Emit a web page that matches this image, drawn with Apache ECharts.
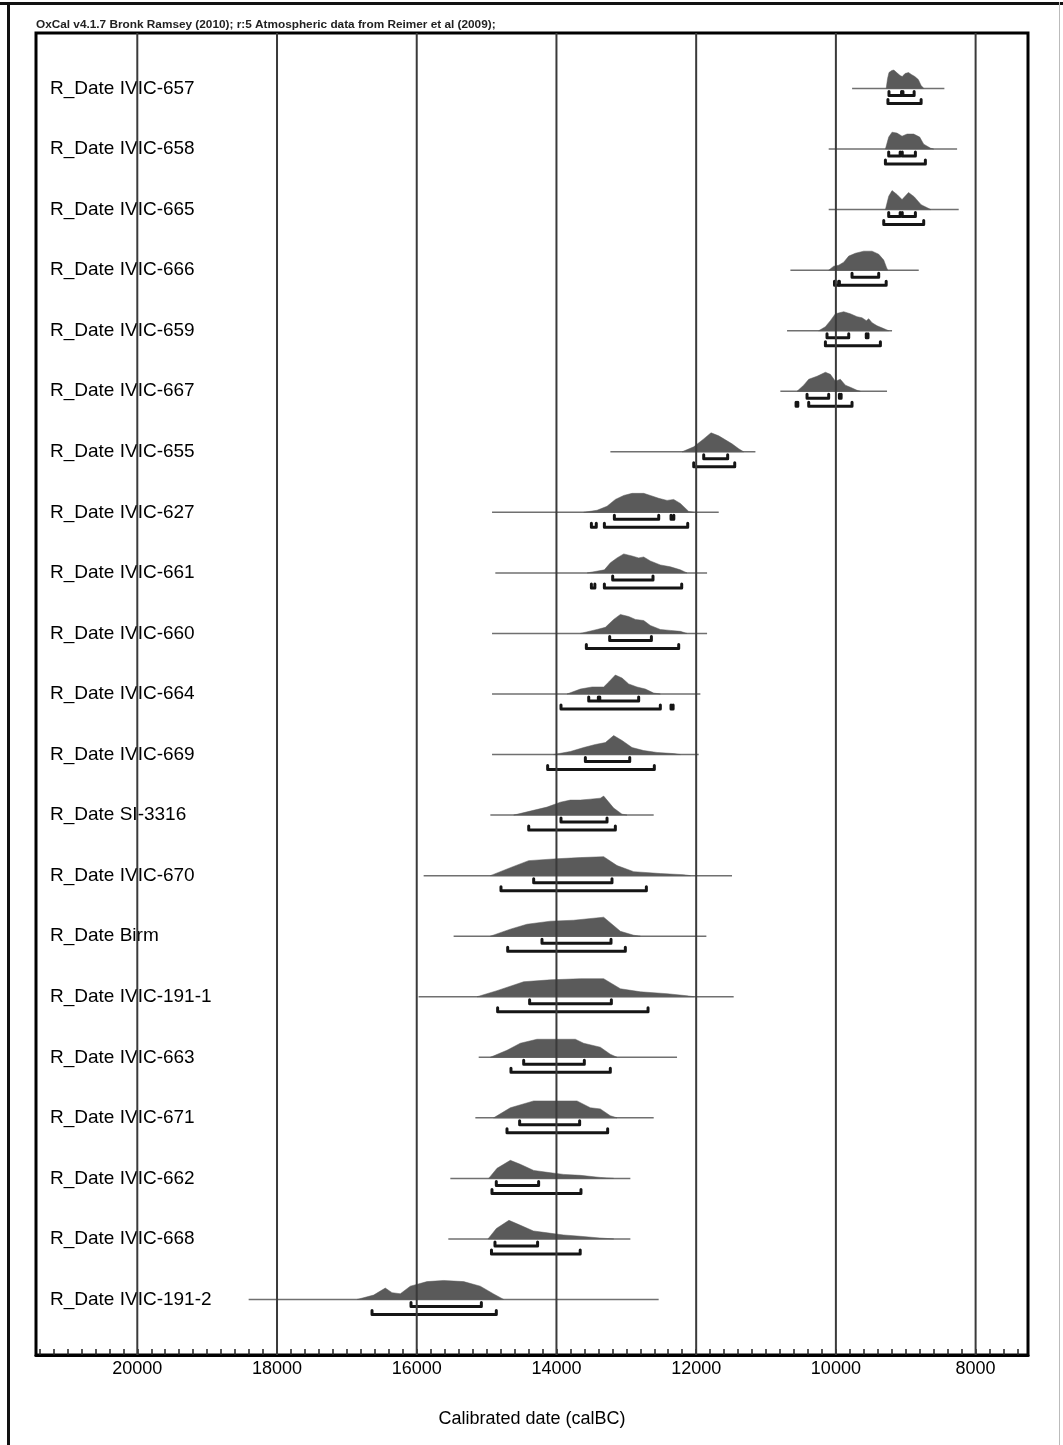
<!DOCTYPE html>
<html><head><meta charset="utf-8">
<script src="https://cdn.jsdelivr.net/npm/echarts@6/dist/echarts.min.js"></script>
<style>html,body{margin:0;padding:0;background:#fff}#c{width:1063px;height:1445px}</style>
</head><body><div id="c"></div><script>
// ---------- DATA ----------
const headerText = 'OxCal v4.1.7 Bronk Ramsey (2010); r:5 Atmospheric data from Reimer et al (2009);';
const axisTitle = 'Calibrated date (calBC)';
const rowNames = ['R_Date IVIC-657','R_Date IVIC-658','R_Date IVIC-665','R_Date IVIC-666','R_Date IVIC-659','R_Date IVIC-667','R_Date IVIC-655','R_Date IVIC-627','R_Date IVIC-661','R_Date IVIC-660','R_Date IVIC-664','R_Date IVIC-669','R_Date SI-3316','R_Date IVIC-670','R_Date Birm','R_Date IVIC-191-1','R_Date IVIC-663','R_Date IVIC-671','R_Date IVIC-662','R_Date IVIC-668','R_Date IVIC-191-2'];
const xTickLabels = [8000,10000,12000,14000,16000,18000,20000];
const gridYears = [8000,10000,12000,14000,16000,18000,20000];

// probability densities [calBC year, relative density 0-100]
const pdf657 = [[9280,0],[9260,53],[9240,84],[9200,95],[9170,97],[9130,84],[9080,68],[9050,63],[9010,79],[8960,84],[8920,74],[8870,63],[8820,47],[8780,16],[8740,0]];
const pdf658 = [[9291,0],[9244,63],[9196,89],[9125,84],[9053,68],[8981,79],[8886,79],[8800,63],[8743,26],[8647,5],[8600,0]];
const pdf665 = [[9291,0],[9244,70],[9196,100],[9125,80],[9053,53],[8960,90],[8880,68],[8780,26],[8640,0]];
const pdf666 = [[10103,0],[10031,21],[9960,26],[9888,42],[9816,74],[9721,89],[9602,100],[9482,100],[9387,84],[9315,53],[9277,16],[9258,0]];
const pdf659 = [[10246,0],[10150,21],[10079,53],[10007,89],[9888,100],[9793,89],[9697,74],[9626,68],[9564,53],[9530,63],[9482,42],[9411,26],[9315,11],[9244,0]];
const pdf667 = [[10556,0],[10461,32],[10389,63],[10270,79],[10150,100],[10079,89],[10007,53],[9936,63],[9864,32],[9793,21],[9697,5],[9650,0]];
const pdf655 = [[12202,0],[12035,26],[11892,68],[11787,100],[11677,84],[11582,63],[11487,42],[11391,16],[11320,0]];
const pdf627 = [[13610,0],[13419,11],[13276,32],[13157,68],[13037,89],[12918,100],[12751,100],[12656,89],[12536,74],[12417,63],[12322,68],[12226,47],[12107,5],[12035,0]];
const pdf661 = [[13560,0],[13314,16],[13228,53],[13133,79],[13037,100],[12918,89],[12823,79],[12751,84],[12656,63],[12513,42],[12369,32],[12226,16],[12131,0]];
const pdf660 = [[13658,0],[13419,21],[13300,32],[13181,74],[13085,100],[12966,89],[12870,74],[12751,68],[12656,42],[12513,21],[12369,16],[12226,11],[12131,0]];
const pdf664 = [[13849,0],[13658,26],[13491,37],[13324,37],[13252,63],[13157,100],[13061,84],[12966,53],[12847,37],[12727,26],[12608,5],[12513,0]];
const pdf669 = [[14040,0],[13801,16],[13610,37],[13443,53],[13300,63],[13181,100],[13061,74],[12918,37],[12751,21],[12560,11],[12322,5],[12226,0]];
const pdfSI3316 = [[14612,0],[14374,21],[14135,42],[13944,68],[13801,79],[13658,79],[13515,84],[13372,89],[13324,100],[13276,79],[13181,37],[13061,5],[12990,0]];
const pdf670 = [[14947,0],[14660,42],[14398,79],[13992,89],[13658,95],[13324,100],[13133,53],[12894,21],[12513,11],[12179,5],[12083,0]];
const pdfBirm = [[14947,0],[14660,37],[14422,63],[14087,79],[13754,84],[13324,100],[13085,26],[12894,5],[12799,0]];
const pdf1911 = [[15137,0],[14851,32],[14469,79],[14087,89],[13658,95],[13324,95],[13085,42],[12799,26],[12417,16],[12131,5],[12035,0]];
const pdf663 = [[14947,0],[14708,37],[14517,74],[14278,95],[13992,95],[13730,95],[13611,74],[13372,53],[13229,16],[13133,0]];
const pdf671 = [[14899,0],[14660,53],[14326,89],[14040,89],[13706,89],[13515,53],[13372,47],[13229,11],[13133,0]];
const pdf662 = [[14970,0],[14851,53],[14660,95],[14517,74],[14326,42],[14135,32],[13897,21],[13658,16],[13372,5],[13181,0]];
const pdf668 = [[14980,0],[14860,55],[14680,98],[14530,74],[14330,42],[14130,32],[13900,21],[13660,14],[13380,5],[13180,0]];
const pdf1912 = [[16855,0],[16617,23],[16450,60],[16354,36],[16235,30],[16092,70],[15853,94],[15615,100],[15328,94],[15090,70],[14899,29],[14755,0]];

// full extent of the thin horizontal line of each row [from, to]
const lineSpan = [[9768,8447],[10103,8265],[10103,8242],[10651,8814],[10699,9196],[10795,9268],[13228,11152],[14922,11677],[14875,11844],[14922,11844],[14922,11940],[14922,11964],[14946,12608],[15901,11487],[15472,11854],[15973,11463],[15113,12274],[15161,12608],[15519,12942],[15548,12942],[18406,12537]];

// 68.2% probability ranges
const range68 = [
 [[9240,9060],[9040,8880]], [[9244,9080],[9050,8862]], [[9244,9080],[9050,8862]],
 [[9769,9387]], [[10127,9816],[9565,9540]], [[10413,10103],[9950,9925]],
 [[11892,11549]], [[13171,12536],[12360,12320]], [[13195,12618]], [[13238,12641]],
 [[13538,13400],[13380,12823]], [[13586,12951]], [[13935,13276]], [[14326,13205]],
 [[14207,13219]], [[14384,13214]], [[14469,13601]], [[14527,13668]],
 [[14861,14255]], [[14880,14270]], [[16082,15075]]
];
// 95.4% probability ranges
const range95 = [
 [[9255,8780]], [[9291,8719]], [[9315,8743]],
 [[10020,9960],[9950,9280]], [[10150,9363]], [[10570,10545],[10389,9769]],
 [[12035,11448]], [[13500,13430],[13314,12121]], [[13500,13450],[13314,12207]], [[13572,12250]],
 [[13935,12513],[12360,12330]], [[14126,12599]], [[14397,13157]], [[14794,12713]],
 [[14698,13014]], [[14842,12689]], [[14651,13229]], [[14708,13267]],
 [[14923,13649]], [[14930,13660]], [[16640,14861]]
];

const pdfs = [pdf657,pdf658,pdf665,pdf666,pdf659,pdf667,pdf655,pdf627,pdf661,pdf660,pdf664,pdf669,pdfSI3316,pdf670,pdfBirm,pdf1911,pdf663,pdf671,pdf662,pdf668,pdf1912];

// ---------- CHART ----------
const minorTicks = [];
for (let v = 7400; v <= 21400; v += 200) minorTicks.push(v);
const rowIdx = rowNames.map((_, i) => i);
const PEAK = 19;      // px height of density maximum
const FONT = 'Liberation Sans, Arial, sans-serif';

function renderRow(params, api) {
  const i = params.dataIndex;
  const base = api.coord([lineSpan[i][0], i])[1];
  const kids = [];
  const a = api.coord([lineSpan[i][0], i]), b = api.coord([lineSpan[i][1], i]);
  kids.push({type:'line', shape:{x1:a[0], y1:base, x2:b[0], y2:base}, style:{stroke:'#707070', lineWidth:1.5}});
  const pts = pdfs[i].map(p => [api.coord([p[0], i])[0], base - p[1] / 100 * PEAK]);
  kids.push({type:'polygon', shape:{points:pts}, style:{fill:'#5a5a5a', stroke:'#5a5a5a', lineWidth:0.5}});
  const bracket = (rng, dy) => {
    const xa = api.coord([rng[0], i])[0], xb = api.coord([rng[1], i])[0];
    const y = base + dy;
    return {type:'polyline', shape:{points:[[xa, y - 4], [xa, y], [xb, y], [xb, y - 4]]},
            style:{stroke:'#151515', lineWidth:3, fill:null, lineJoin:'round', lineCap:'round'}};
  };
  range68[i].forEach(r => kids.push(bracket(r, 7)));
  range95[i].forEach(r => kids.push(bracket(r, 15)));
  return {type:'group', children:kids};
}

function renderGrid(params, api) {
  const yr = gridYears[params.dataIndex];
  const p0 = api.coord([yr, -0.917]), p1 = api.coord([yr, 20.917]);
  return {type:'line', shape:{x1:p0[0], y1:p0[1], x2:p1[0], y2:p1[1]}, style:{stroke:'#3a3a3a', lineWidth:2}};
}

const chart = echarts.init(document.getElementById('c'), null, {renderer:'canvas'});
chart.setOption({
  backgroundColor:'#ffffff',
  animation:false,
  grid:{left:36, right:35, top:33, bottom:90, show:true, borderColor:'#000', borderWidth:3, backgroundColor:'transparent'},
  xAxis:{
    type:'value', inverse:true, min:7250, max:21450,
    axisLine:{show:true, onZero:false, lineStyle:{color:'#000', width:3}},
    axisTick:{show:true, inside:true, length:6, customValues:minorTicks, lineStyle:{color:'#222', width:1.5}},
    axisLabel:{customValues:xTickLabels, fontSize:18, color:'#000', margin:5, fontFamily:FONT,
               formatter:v => String(v)},
    splitLine:{show:false},
    name:axisTitle, nameLocation:'middle', nameGap:55,
    nameTextStyle:{fontSize:18, color:'#000', fontFamily:FONT}
  },
  yAxis:{
    type:'value', inverse:true, min:-0.917, max:20.917,
    axisLine:{show:false}, axisTick:{show:false}, splitLine:{show:false},
    axisLabel:{customValues:rowIdx, inside:true, margin:14, fontSize:19, color:'#000', fontFamily:FONT,
               formatter:v => rowNames[Math.round(v)] || ''}
  },
  graphic:[
    {type:'rect', left:0, top:2, shape:{width:1063, height:3}, style:{fill:'#111'}},
    {type:'rect', left:7, top:2, shape:{width:3, height:1443}, style:{fill:'#111'}},
    {type:'rect', left:1059, top:2, shape:{width:1, height:1443}, style:{fill:'#bbb'}},
    {type:'text', left:36, top:19, style:{text:headerText, font:'bold 11.8px ' + FONT, fill:'#222'}}
  ],
  series:[
    {type:'custom', renderItem:renderRow, clip:false, z:2,
     data:rowNames.map((n, i) => [lineSpan[i][0], i]), encode:{x:0, y:1}},
    {type:'custom', renderItem:renderGrid, clip:false, z:3, silent:true,
     data:gridYears.map(v => [v, 0]), encode:{x:0, y:1}}
  ]
});
</script></body></html>
